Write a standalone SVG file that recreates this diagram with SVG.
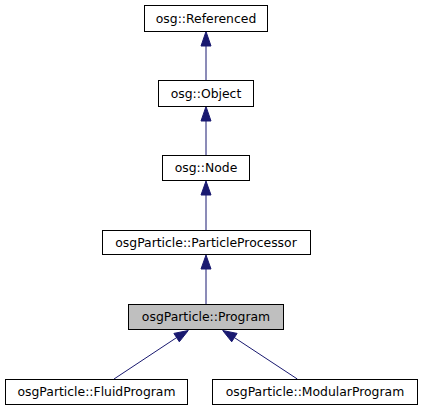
<svg xmlns="http://www.w3.org/2000/svg" width="423" height="411" viewBox="0 0 423 411">
<style>
.box{fill:#ffffff;stroke:#000000;stroke-width:1}
.cur{fill:#bfbfbf;stroke:#000000;stroke-width:1}
.lbl{font-family:"DejaVu Sans",sans-serif;font-size:12.4px;fill:#000000;text-anchor:middle}
.edge{stroke:#191970;stroke-width:1;fill:none}
.head{fill:#191970;stroke:#191970;stroke-width:1}
</style>
<rect width="423" height="411" fill="#ffffff"/>
<g id="connectors">
<line class="edge" x1="206" y1="80" x2="206" y2="46"/>
<polygon class="head" points="206,31.5 211,46 201,46"/>
<line class="edge" x1="206" y1="155" x2="206" y2="121"/>
<polygon class="head" points="206,106.5 211,121 201,121"/>
<line class="edge" x1="206" y1="230" x2="206" y2="195"/>
<polygon class="head" points="206,181 211,195 201,195"/>
<line class="edge" x1="206" y1="304" x2="206" y2="269"/>
<polygon class="head" points="206,255 211,269 201,269"/>
<line class="edge" x1="114" y1="379" x2="176.6" y2="337.6"/>
<polygon class="head" points="188.3,330.5 179.3,341.8 173.9,333.4"/>
<line class="edge" x1="297.3" y1="379" x2="234.4" y2="337.6"/>
<polygon class="head" points="222.7,330.5 237.1,333.4 231.7,341.8"/>
</g>
<g id="node-referenced">
<rect class="box" x="144.5" y="5.5" width="123" height="26"/>
<text class="lbl" x="206" y="23">osg::Referenced</text>
</g>
<g id="node-object">
<rect class="box" x="158.5" y="80.5" width="95" height="26"/>
<text class="lbl" x="206" y="98">osg::Object</text>
</g>
<g id="node-node">
<rect class="box" x="162.5" y="155.5" width="87" height="25"/>
<text class="lbl" x="206" y="172">osg::Node</text>
</g>
<g id="node-particleprocessor">
<rect class="box" x="102.5" y="230.5" width="208" height="24"/>
<text class="lbl" x="206" y="247">osgParticle::ParticleProcessor</text>
</g>
<g id="node-program">
<rect class="cur" x="128.5" y="304.5" width="155" height="25"/>
<text class="lbl" x="206" y="321">osgParticle::Program</text>
</g>
<g id="node-fluidprogram">
<rect class="box" x="5.5" y="379.5" width="182" height="25"/>
<text class="lbl" x="96.5" y="396">osgParticle::FluidProgram</text>
</g>
<g id="node-modularprogram">
<rect class="box" x="212.5" y="379.5" width="205" height="25"/>
<text class="lbl" x="315" y="396">osgParticle::ModularProgram</text>
</g>
</svg>
